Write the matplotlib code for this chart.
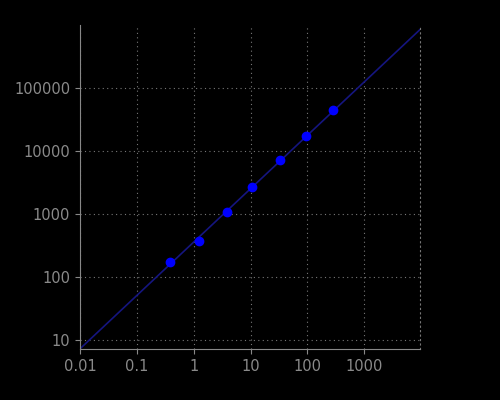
import numpy as np
import matplotlib.pyplot as plt

x_pts = [0.39, 1.22, 3.8, 10.8, 33.6, 96, 286]
y_pts = [174, 370, 1075, 2680, 7200, 17300, 45000]
fit_x = [0.01, 9600]
fit_slope = 0.847
fit_intercept = 2.551  # log10(y) at x=1

fig = plt.figure(figsize=(5, 4), dpi=100, facecolor='black')
ax = fig.add_axes([0.16, 0.128, 0.68, 0.81], facecolor='black')
ax.set_xscale('log')
ax.set_yscale('log')

lx = np.log10(fit_x)
ax.plot(fit_x, 10 ** (fit_intercept + fit_slope * lx), color='#15157f', lw=1.2)
ax.plot(x_pts, y_pts, 'o', color='#0000ff', ms=6)

ax.set_xlim(0.01, 9600)
ax.set_ylim(7.2, 1e6)
ax.set_xticks([0.01, 0.1, 1, 10, 100, 1000])
ax.set_xticklabels(['0.01', '0.1', '1', '10', '100', '1000'])
ax.set_yticks([10, 100, 1000, 10000, 100000])
ax.set_yticklabels(['10', '100', '1000', '10000', '100000'])
ax.minorticks_off()
ax.grid(True, color='#777777', ls=(0, (1, 3)), lw=0.8)
ax.spines['top'].set_visible(False)
ax.spines['right'].set_color('#777777')
ax.spines['right'].set_linestyle((0, (1, 3)))
for s in ['left', 'bottom']:
    ax.spines[s].set_color('#888888')
ax.tick_params(colors='#888888', labelsize=10.5, labelcolor='#8a8a8a')
fig.savefig('out.png', facecolor='black')
